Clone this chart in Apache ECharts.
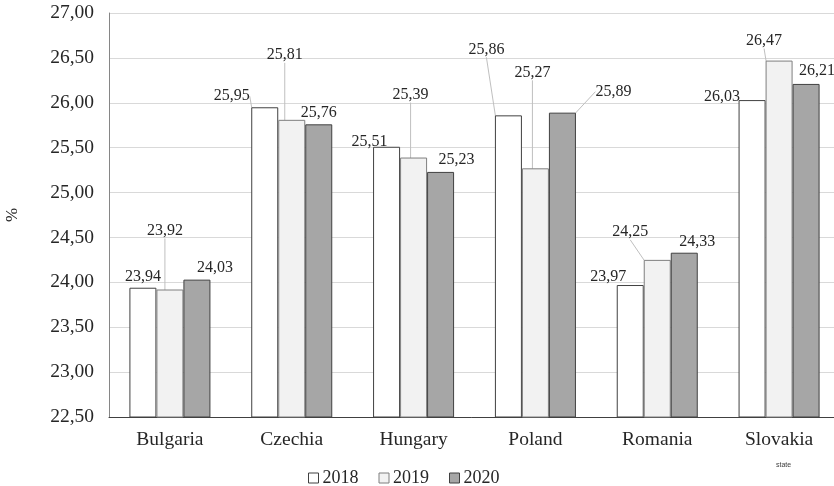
<!DOCTYPE html>
<html>
<head>
<meta charset="utf-8">
<script src="https://cdn.jsdelivr.net/npm/echarts@6/dist/echarts.min.js"></script>
<style>
html,body{margin:0;padding:0;background:#fff;}
#chart{width:834px;height:486px;}
</style>
</head>
<body>
<div id="chart"></div>
<script>
const categories = ['Bulgaria', 'Czechia', 'Hungary', 'Poland', 'Romania', 'Slovakia'];
const seriesNames = ['2018', '2019', '2020'];
const values2018 = [23.94, 25.95, 25.51, 25.86, 23.97, 26.03];
const values2019 = [23.92, 25.81, 25.39, 25.27, 24.25, 26.47];
const values2020 = [24.03, 25.76, 25.23, 25.89, 24.33, 26.21];
const yTicks = { min: 22.5, max: 27, interval: 0.5 };

// label placement: [dx, dy, showLeaderLine] relative to default top position
const labelPlacement = [
  [[0, 2, 0], [-33, 2, 1], [-17, 8, 0], [-22, -53, 1], [-22, 5, 0], [-30, 10, 0]],
  [[-5, -46, 1], [-7, -52, 1], [-3, -50, 1], [-3, -83, 1], [-27, -15, 1], [-15, -7, 1]],
  [[18, 1, 0], [0, 1, 0], [16, 1, 0], [51, -8, 1], [13, 2, 0], [11, 0, 0]]
];

const fills = ['#ffffff', '#f2f2f2', '#a6a6a6'];
const borders = ['#404040', '#7f7f7f', '#404040'];
const allValues = [values2018, values2019, values2020];
const fmt = v => Number(v).toFixed(2).replace('.', ',');
const serif = 'serif';

const chart = echarts.init(document.getElementById('chart'), null, { renderer: 'canvas' });

const series = allValues.map((vals, si) => ({
  name: seriesNames[si],
  type: 'bar',
  barGap: 0,
  barCategoryGap: '33.5%',
  itemStyle: { color: fills[si], borderColor: borders[si], borderWidth: 1 },
  label: {
    show: true,
    position: 'top',
    formatter: p => fmt(p.value),
    fontFamily: serif,
    fontSize: 16,
    color: '#262626'
  },
  labelLine: { show: true, lineStyle: { color: '#bfbfbf', width: 1 } },
  labelLayout: function (params) {
    const o = labelPlacement[params.seriesIndex][params.dataIndex];
    return { dx: o[0], dy: o[1] };
  },
  data: vals.map((v, i) => ({
    value: v,
    labelLine: { show: !!labelPlacement[si][i][2] }
  }))
}));

chart.setOption({
  animation: false,
  backgroundColor: '#ffffff',
  grid: { left: 109, top: 13, width: 731, height: 404, containLabel: false, outerBoundsMode: 'none' },
  legend: {
    data: seriesNames,
    left: 303,
    top: 464,
    itemWidth: 10,
    itemHeight: 10,
    itemGap: 20,
    icon: 'rect',
    textStyle: { fontFamily: serif, fontSize: 18, color: '#262626', padding: [0, 0, 0, -1] },
    itemStyle: { borderWidth: 1 }
  },
  xAxis: {
    type: 'category',
    data: categories,
    axisLine: { show: true, lineStyle: { color: '#404040', width: 1 } },
    axisTick: { show: false },
    axisLabel: { fontFamily: serif, fontSize: 19.5, color: '#262626', margin: 13 },
    splitLine: { show: false }
  },
  yAxis: {
    type: 'value',
    min: yTicks.min,
    max: yTicks.max,
    interval: yTicks.interval,
    name: '%',
    nameLocation: 'middle',
    nameGap: 88,
    nameRotate: 90,
    nameTextStyle: { fontFamily: serif, fontSize: 17, color: '#262626' },
    axisLine: { show: true, lineStyle: { color: '#868686', width: 1 } },
    axisTick: { show: false },
    axisLabel: { fontFamily: serif, fontSize: 19.5, color: '#262626', margin: 15, formatter: v => fmt(v) },
    splitLine: { show: true, lineStyle: { color: '#d9d9d9', width: 1 } }
  },
  graphic: [{
    type: 'text',
    left: 776,
    top: 462,
    style: { text: 'state', fontFamily: 'sans-serif', fontSize: 7, fill: '#404040' }
  }],
  series: series
});
</script>
</body>
</html>
